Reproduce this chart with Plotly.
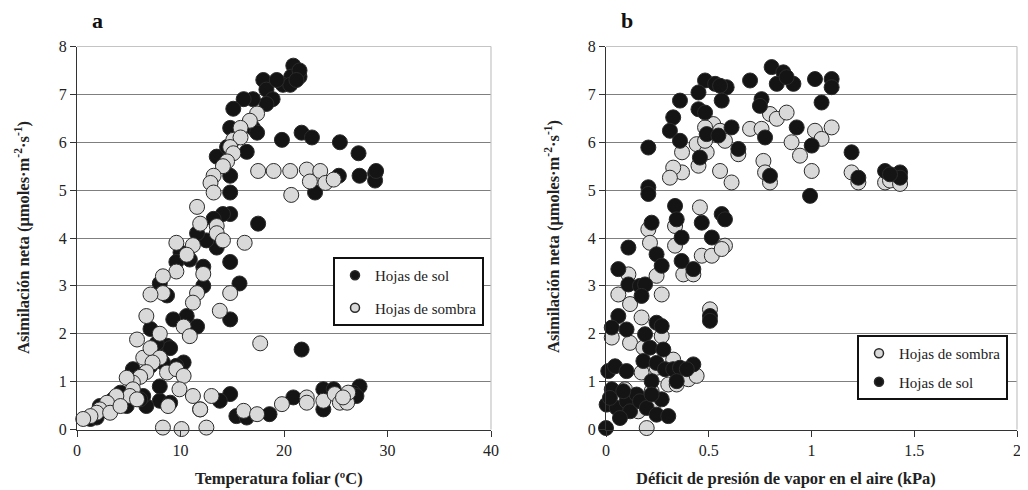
import plotly.graph_objects as go

# ---------------- Panel a: Temperatura foliar (ºC) vs Asimilación neta ----------------
a_sol_x = [20.9, 20.7, 21.5, 19.9, 18.0, 18.3, 18.9, 18.3, 17.0, 20.6, 21.5, 19.3, 21.2,
           16.1, 15.1, 14.8, 17.0, 17.4, 16.4, 13.5, 14.5, 14.8, 14.8, 14.8, 14.1, 13.2,
           13.5, 12.5, 11.6, 10.9, 10.0, 9.6, 12.2, 12.2, 10.6, 11.6, 9.3, 8.7, 9.0, 7.1,
           7.7, 8.7, 8.0, 14.8, 15.7, 14.8, 17.5,
           19.8, 21.7, 22.7, 25.4, 27.2, 27.3, 25.3, 23.0, 28.8, 28.8, 28.9, 21.7,
           20.9, 23.8, 24.8, 23.8, 27.3, 26.7, 27.0, 18.6, 15.4, 16.4, 14.8, 13.8, 8.0,
           9.0, 11.9,
           10.3, 9.6, 6.7, 6.4, 5.4, 4.2, 3.5, 2.2, 1.3, 1.9, 2.9, 4.8, 6.1, 7.1, 8.3, 8.0]
a_sol_y = [7.6, 7.37, 7.37, 7.2, 7.3, 7.1, 6.9, 6.8, 6.9, 7.2, 7.5, 7.3, 7.3,
           6.9, 6.7, 6.3, 6.3, 6.2, 5.8, 5.7, 5.9, 5.3, 4.95, 4.5, 4.5, 4.4,
           3.8, 3.95, 4.1, 3.55, 3.7, 3.5, 3.4, 3.0, 2.37, 2.15, 2.3, 1.75, 1.7, 2.1,
           1.8, 2.8, 3.05, 3.5, 3.05, 2.3, 4.3,
           6.05, 6.2, 6.1, 6.0, 5.77, 5.3, 5.3, 4.95, 5.35, 5.2, 5.4, 1.67,
           0.67, 0.84, 0.84, 0.42, 0.9, 0.77, 0.7, 0.32, 0.28, 0.25, 0.74, 0.6, 0.6,
           0.56, 0.42,
           1.4, 1.33, 0.49, 0.7, 1.26, 0.77, 0.63, 0.49, 0.22, 0.25, 0.42, 0.49, 0.63, 1.33, 1.4, 0.9]

a_sombra_x = [17.4, 16.7, 15.8, 15.1, 15.8, 14.8, 15.1, 14.5, 14.1, 13.2, 12.9, 13.2, 11.6,
              11.9, 13.5, 13.5, 14.1, 9.6, 11.2, 10.6, 9.6, 8.3, 12.2, 11.6, 11.2, 8.3,
              7.1, 6.7, 13.8, 14.8, 16.2, 17.7, 10.3, 10.9, 8.0, 5.8, 6.4, 7.1, 8.0, 7.3,
              6.7, 6.1, 5.4, 4.8, 5.4, 5.1, 5.8, 3.8, 2.9, 2.2, 1.9, 1.3, 0.6, 3.2, 4.2,
              8.7, 9.6, 10.3, 9.9, 8.8, 11.2, 11.9, 13.0, 8.3, 10.1, 12.5, 16.1, 17.4,
              19.8, 22.2, 22.2, 23.8, 24.9, 25.4, 26.1, 26.2, 25.7,
              17.5, 19.0, 20.6, 22.2, 23.5, 22.5, 24.0, 24.8, 20.7]
a_sombra_y = [6.6, 6.45, 6.3, 6.05, 6.1, 5.9, 5.77, 5.6, 5.5, 5.3, 5.15, 4.95, 4.65,
              4.3, 4.25, 4.1, 3.95, 3.9, 3.85, 3.65, 3.3, 3.2, 3.25, 2.85, 2.65, 2.85,
              2.82, 2.37, 2.48, 2.85, 3.9, 1.8, 2.15, 1.95, 2.0, 1.88, 1.5, 1.7, 1.5, 1.4,
              1.2, 1.1, 0.98, 1.08, 0.84, 0.7, 0.63, 0.7, 0.56, 0.42, 0.35, 0.28, 0.22, 0.35, 0.49,
              1.19, 1.26, 1.12, 0.84, 0.49, 0.7, 0.42, 0.7, 0.04, 0.01, 0.04, 0.39, 0.32,
              0.53, 0.67, 0.56, 0.6, 0.74, 0.56, 0.56, 0.77, 0.67,
              5.4, 5.4, 5.4, 5.43, 5.4, 5.18, 5.15, 5.22, 4.9]

# ---------------- Panel b: Déficit de presión de vapor (kPa) vs Asimilación neta ----------------
b_sol_x = [0.806, 0.863, 0.831, 0.912, 0.879, 0.701, 1.017, 1.098, 1.098, 1.049, 0.757, 0.749,
           0.774, 0.928, 1.001, 0.993, 1.195, 1.228, 1.358, 1.431, 1.431, 1.382, 0.798,
           0.482, 0.531, 0.587, 0.555, 0.450, 0.563, 0.36, 0.450, 0.482, 0.327, 0.311, 0.36,
           0.49, 0.547, 0.611, 0.644, 0.457, 0.206, 0.206, 0.206, 0.336, 0.344, 0.368, 0.466,
           0.515, 0.563, 0.579, 0.222, 0.109, 0.246, 0.368, 0.425, 0.06, 0.271, 0.109, 0.165,
           0.19, 0.173, 0.506, 0.506, 0.06, 0.028, 0.1, 0.19, 0.246, 0.271, 0.214, 0.279,
           0.182, 0.246, 0.287, 0.327, 0.36, 0.425, 0.393, 0.344, 0.222, 0.011, 0.044, 0.1,
           0.028, 0.003, 0.052, 0.1, 0.149, 0.117, 0.068, 0.165, 0.198, 0.246, 0.271, 0.303,
           0.222, 0.0, 0.019, 0.084]
b_sol_y = [7.57, 7.46, 7.22, 7.22, 7.36, 7.29, 7.32, 7.32, 7.15, 6.83, 6.9, 6.76,
           6.1, 6.31, 5.93, 4.88, 5.79, 5.26, 5.4, 5.37, 5.26, 5.33, 5.3,
           7.29, 7.22, 7.15, 7.18, 7.04, 6.87, 6.87, 6.69, 6.62, 6.52, 6.24, 6.03,
           6.17, 6.14, 6.31, 5.86, 5.68, 5.89, 5.06, 4.92, 4.67, 4.39, 4.01, 4.32,
           4.01, 4.5, 4.39, 4.32, 3.8, 3.66, 3.52, 3.35, 3.35, 3.42, 3.03, 3.0,
           3.03, 2.79, 2.37, 2.27, 2.37, 2.13, 2.09, 1.99, 2.23, 2.16, 1.71, 1.67,
           1.43, 1.39, 1.26, 1.26, 1.29, 1.36, 1.26, 1.01, 1.01, 1.22, 1.32, 1.22,
           0.84, 0.52, 0.45, 0.59, 0.73, 0.38, 0.24, 0.59, 0.45, 0.31, 0.63, 0.28,
           0.73, 0.03, 0.66, 0.8]

b_sombra_x = [0.798, 0.831, 0.879, 0.701, 0.757, 1.098, 1.017, 1.049, 0.903, 0.944, 1.001,
              0.766, 0.774, 0.798, 1.195, 1.228, 1.358, 1.382, 1.431, 0.522, 0.482, 0.555,
              0.579, 0.441, 0.49, 0.482, 0.37, 0.45, 0.555, 0.611, 0.644, 0.37, 0.327, 0.311,
              0.457, 0.206, 0.214, 0.336, 0.336, 0.466, 0.515, 0.579, 0.563, 0.376, 0.425,
              0.109, 0.246, 0.271, 0.06, 0.117, 0.173, 0.117, 0.028, 0.271, 0.182, 0.246,
              0.327, 0.303, 0.344, 0.401, 0.441, 0.173, 0.222, 0.198, 0.092, 0.036, 0.157,
              0.23, 0.506, 0.068]
b_sombra_y = [6.59, 6.49, 6.62, 6.28, 6.28, 6.31, 6.24, 6.07, 6.0, 5.72, 5.4,
              5.61, 5.37, 5.16, 5.37, 5.16, 5.16, 5.2, 5.13, 6.38, 6.31, 6.24,
              6.03, 5.96, 5.79, 6.03, 5.79, 5.51, 5.4, 5.16, 5.75, 5.37, 5.47, 5.26,
              4.64, 4.18, 3.9, 4.25, 3.84, 3.63, 3.63, 3.84, 3.77, 3.24, 3.24,
              3.24, 3.21, 2.82, 2.82, 2.62, 2.34, 1.81, 1.92, 1.95, 1.71, 1.29,
              1.46, 0.94, 0.94, 1.05, 1.12, 1.19, 0.8, 0.03, 0.84, 0.73, 0.38,
              0.52, 2.51, 0.59]

# ---------------- Text ----------------
y_title = "Asimilación neta (μmoles·m<sup>-2</sup>·s<sup>-1</sup>)"
xa_title = "Temperatura foliar (ºC)"
xb_title = "Déficit de presión de vapor en el aire (kPa)"
name_sol = "Hojas de sol"
name_sombra = "Hojas de sombra"

FONT = "Liberation Serif"
SOL_FILL = "#141414"
SOMBRA_FILL = "#d9d9d9"
EDGE = "#2a2a2a"
MS = 15

# The page body has an 8px margin; figure is sized to fit the window and
# positions are given in window pixels, converted to paper fractions.
OFF = 8
W, H = 1028 - OFF, 490 - OFF

def fx(px):
    return (px - OFF) / W

def fy(py):
    return 1 - (py - OFF) / H

fig = go.Figure()

def pts(x, y, fill, xa, ya):
    return go.Scatter(x=x, y=y, mode="markers", xaxis=xa, yaxis=ya, showlegend=False,
                      cliponaxis=False, hoverinfo="skip",
                      marker=dict(size=MS, color=fill, line=dict(color=EDGE, width=1)))

def leg(name, fill, legend, group):
    return go.Scatter(x=[None], y=[None], mode="markers", name=name, legend=legend,
                      legendgroup=group, showlegend=True,
                      marker=dict(size=9, color=fill, line=dict(color=EDGE, width=1.5)))

# panel a: sun below, shade on top
fig.add_trace(pts(a_sol_x, a_sol_y, SOL_FILL, "x", "y"))
fig.add_trace(pts(a_sombra_x, a_sombra_y, SOMBRA_FILL, "x", "y"))
# panel b: shade below, sun on top
fig.add_trace(pts(b_sombra_x, b_sombra_y, SOMBRA_FILL, "x2", "y2"))
fig.add_trace(pts(b_sol_x, b_sol_y, SOL_FILL, "x2", "y2"))

fig.add_trace(leg(name_sol, SOL_FILL, "legend", "a1"))
fig.add_trace(leg(name_sombra, SOMBRA_FILL, "legend", "a2"))
fig.add_trace(leg(name_sombra, SOMBRA_FILL, "legend2", "b1"))
fig.add_trace(leg(name_sol, SOL_FILL, "legend2", "b2"))

dom_y = [fy(429.5), fy(46.5)]
TICKFONT = dict(family=FONT, size=16, color="#222")

def xax(domain, rng, dtick, anchor):
    return dict(domain=domain, range=rng, dtick=dtick, tick0=0, anchor=anchor,
                automargin=False,
                showline=True, linecolor="#333333", linewidth=1.2,
                ticks="outside", ticklen=6, tickcolor="#333333",
                showgrid=False, zeroline=False, tickfont=TICKFONT)

def yax(rng, anchor):
    return dict(domain=dom_y, range=rng, dtick=1, tick0=0, anchor=anchor,
                automargin=False,
                showline=True, linecolor="#333333", linewidth=1.2,
                ticks="outside", ticklen=6, tickcolor="#333333",
                showgrid=True, gridcolor="#7f7f7f", gridwidth=1, zeroline=False,
                tickfont=TICKFONT)

title_font = dict(family=FONT, size=16.5, color="#222")
ytitle_font = dict(family=FONT, size=16.5, color="#222")

def note(text, px, py, font, angle=0):
    return dict(text=text, x=fx(px), y=fy(py), xref="paper", yref="paper",
                xanchor="center", yanchor="middle", showarrow=False,
                textangle=angle, font=font)

fig.update_layout(
    width=W, height=H,
    margin=dict(l=0, r=0, t=0, b=0, autoexpand=False),
    paper_bgcolor="white", plot_bgcolor="white",
    font=dict(family=FONT, color="#222"),
    xaxis=xax([fx(77), fx(491)], [0, 40], 10, "y"),
    yaxis=yax([0, 8], "x"),
    xaxis2=xax([fx(606), fx(1017)], [0, 2], 0.5, "y2"),
    yaxis2=yax([0, 8], "x2"),
    legend=dict(x=fx(333), y=fy(257), xanchor="left", yanchor="top",
                bgcolor="white", bordercolor="#111", borderwidth=2,
                font=dict(family=FONT, size=15, color="#222"),
                tracegroupgap=10, itemsizing="trace"),
    legend2=dict(x=fx(857), y=fy(335), xanchor="left", yanchor="top",
                 bgcolor="white", bordercolor="#111", borderwidth=2,
                 font=dict(family=FONT, size=15, color="#222"),
                 tracegroupgap=6, itemsizing="trace"),
    annotations=[
        note("<b>a</b>", 97, 20, dict(family=FONT, size=22, color="#111")),
        note("<b>b</b>", 627, 20, dict(family=FONT, size=22, color="#111")),
        note("<b>" + xa_title + "</b>", 279, 478, title_font),
        note("<b>" + xb_title + "</b>", 786, 478, title_font),
        note("<b>" + y_title + "</b>", 22, 238, ytitle_font, -90),
        note("<b>" + y_title + "</b>", 552, 237, ytitle_font, -90),
    ],
    shapes=[
        dict(type="line", xref="x domain", yref="y domain", x0=0, x1=1, y0=1, y1=1,
             line=dict(color="#c4c4c4", width=1.2), layer="above"),
        dict(type="line", xref="x domain", yref="y domain", x0=1, x1=1, y0=0, y1=1,
             line=dict(color="#c4c4c4", width=1.2), layer="above"),
        dict(type="line", xref="x2 domain", yref="y2 domain", x0=0, x1=1, y0=1, y1=1,
             line=dict(color="#c4c4c4", width=1.2), layer="above"),
        dict(type="line", xref="x2 domain", yref="y2 domain", x0=1, x1=1, y0=0, y1=1,
             line=dict(color="#c4c4c4", width=1.2), layer="above"),
    ],
)

fig.write_html("out.html")
